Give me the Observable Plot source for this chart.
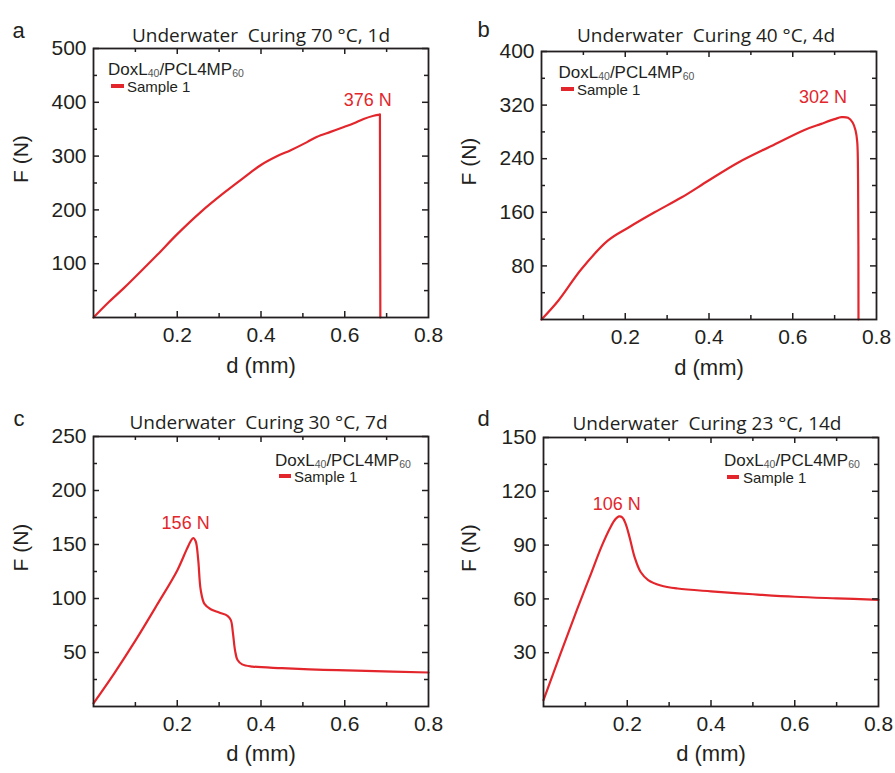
<!DOCTYPE html>
<html><head><meta charset="utf-8">
<script src="https://cdn.jsdelivr.net/npm/d3@7"></script>
<script src="https://cdn.jsdelivr.net/npm/@observablehq/plot@0.6"></script>
<style>
body{margin:0;background:#fff;}
#wrap{position:relative;width:895px;height:773px;overflow:hidden;background:#fff;font-family:"Liberation Sans",Arial,sans-serif;color:#231f20;}
#wrap svg text{white-space:pre;}
.lg{position:absolute;white-space:nowrap;transform:translateY(-50%);line-height:1;}
.lg.t{font-size:17px;}
.lg.t sub{font-size:10.5px;vertical-align:baseline;position:relative;top:2px;color:#555;}
.lg.s{font-size:15px;}
.sw{position:absolute;height:4px;background:#e3262c;transform:translateY(-50%);}
</style></head><body><div id="wrap"></div>
<script>
// ---------- data ----------
const titles = ["Underwater  Curing 70 °C, 1d", "Underwater  Curing 40 °C, 4d", "Underwater  Curing 30 °C, 7d", "Underwater  Curing 23 °C, 14d"];
const letters = ["a", "b", "c", "d"];
const xLabel = "d (mm)";
const yLabel = "F (N)";
const seriesName = "Sample 1";
const peakLabels = ["376 N", "302 N", "156 N", "106 N"];

// panel a: 70 °C, 1d
const dA = [0, 0.033, 0.073, 0.121, 0.153, 0.2, 0.256, 0.312, 0.359, 0.399, 0.439, 0.471, 0.51, 0.534, 0.566, 0.598, 0.622, 0.645, 0.669, 0.684, 0.685];
const fA = [0, 26, 55, 92, 117, 155, 196, 232, 260, 283, 300, 311, 326, 336, 345, 354, 361, 369, 375, 377, 0];
// panel b: 40 °C, 4d
const dB = [0, 0.04, 0.095, 0.159, 0.207, 0.27, 0.334, 0.398, 0.469, 0.549, 0.628, 0.668, 0.7, 0.716, 0.732, 0.743, 0.75, 0.754, 0.756, 0.757];
const fB = [0, 28, 75, 118, 137, 160, 182, 207, 234, 259, 283, 292, 299, 302, 301, 294, 282, 265, 207, 0];
// panel c: 30 °C, 7d
const dC = [0, 0.05, 0.1, 0.15, 0.2, 0.222, 0.232, 0.238, 0.244, 0.25, 0.256, 0.265, 0.28, 0.3, 0.32, 0.328, 0.333, 0.338, 0.344, 0.355, 0.38, 0.45, 0.55, 0.65, 0.8];
const fC = [3, 31, 61, 93, 126, 145, 153, 156, 153, 136, 108, 95, 90, 87, 84, 80, 68, 52, 43, 39, 37, 35.5, 34, 33, 31.5];
// panel d: 23 °C, 14d
const dD = [0, 0.04, 0.08, 0.11, 0.14, 0.16, 0.172, 0.18, 0.188, 0.196, 0.206, 0.218, 0.232, 0.25, 0.28, 0.32, 0.4, 0.5, 0.6, 0.7, 0.8];
const fD = [3.5, 29, 54, 72, 90, 100, 104.5, 106, 105.5, 102, 94, 83, 75, 70.5, 67.5, 65.8, 64.2, 62.6, 61.2, 60.3, 59.5];

// peak label anchor positions (data units)
const peakPosD = [0.655, 0.672, 0.22, 0.175];
const peakPosF = [404, 331, 170, 113];

// axis ticks
const xMajor = [0.2, 0.4, 0.6];
const xMinor = [0.1, 0.3, 0.5, 0.7];
const xLabelTicks = [0.2, 0.4, 0.6, 0.8];
const yMaxA = 500, yMaxB = 400, yMaxC = 250, yMaxD = 150;
const yMajorA = [100, 200, 300, 400, 500], yMinorA = [50, 150, 250, 350, 450];
const yMajorB = [80, 160, 240, 320, 400], yMinorB = [40, 120, 200, 280, 360];
const yMajorC = [50, 100, 150, 200, 250], yMinorC = [25, 75, 125, 175, 225];
const yMajorD = [30, 60, 90, 120, 150], yMinorD = [15, 45, 75, 105, 135];

// ---------- layout / style ----------
const RED = "#e3262c", INK = "#231f20";
const FONT = "'Liberation Sans', Arial, sans-serif";
const panels = [
  {d: dA, f: fA, ymax: yMaxA, yt: yMajorA, ym: yMinorA, curve: "catmull-rom", split: true,
   left: 0, top: 0, width: 447, height: 387, mL: 93, mR: 19, mT: 48, mB: 70,
   titleY: 27.5, titleDx: 0, letterX: 12, letterY: 22.3, xlDy: 55,
   leg: {tx: 108, ty: 69, sx: 111, sw: 13, sy: 86, stx: 127}},
  {d: dB, f: fB, ymax: yMaxB, yt: yMajorB, ym: yMinorB, curve: "catmull-rom", split: false,
   left: 448, top: 0, width: 447, height: 387, mL: 93, mR: 19, mT: 51, mB: 68,
   titleY: 28.2, titleDx: -3, letterX: 477, letterY: 21.3, xlDy: 55,
   leg: {tx: 558.5, ty: 71.5, sx: 561, sw: 13, sy: 89, stx: 577}},
  {d: dC, f: fC, ymax: yMaxC, yt: yMajorC, ym: yMinorC, curve: "catmull-rom", split: false,
   left: 0, top: 387, width: 447, height: 386, mL: 93, mR: 19, mT: 49, mB: 67,
   titleY: 27.9, titleDx: -2.5, letterX: 13, letterY: 22.7, xlDy: 54,
   leg: {tx: 275, ty: 459.7, sx: 278.5, sw: 12, sy: 476.3, stx: 294}},
  {d: dD, f: fD, ymax: yMaxD, yt: yMajorD, ym: yMinorD, curve: "catmull-rom", split: false,
   left: 448, top: 387, width: 447, height: 386, mL: 95, mR: 17, mT: 50, mB: 67,
   titleY: 28.9, titleDx: -4, letterX: 477, letterY: 22.7, xlDy: 54,
   leg: {tx: 724, ty: 460, sx: 727, sw: 12, sy: 476.7, stx: 743}}
];

const wrap = document.getElementById("wrap");

panels.forEach((p, i) => {
  const fh = p.height - p.mT - p.mB;
  const fw = p.width - p.mL - p.mR;
  const pts = p.d.map((x, j) => ({d: x, F: p.f[j]}));
  // the final vertical drop (fracture) is drawn straight, the loading curve smoothed
  const smooth = p.split ? pts.slice(0, -1) : pts;
  const drop = p.split ? pts.slice(-2) : [];
  const tickStyle = {stroke: INK, strokeWidth: 1.5};
  const svg = Plot.plot({
    width: p.width, height: p.height,
    marginLeft: p.mL, marginRight: p.mR, marginTop: p.mT, marginBottom: p.mB,
    style: {background: "transparent", color: INK, fontFamily: FONT, fontSize: "21px", overflow: "visible"},
    x: {domain: [0, 0.8]},
    y: {domain: [0, p.ymax]},
    marks: [
      Plot.line(smooth, {x: "d", y: "F", stroke: RED, strokeWidth: 2.2, curve: p.curve}),
      Plot.line(drop, {x: "d", y: "F", stroke: RED, strokeWidth: 2.2}),
      // inward ticks, bottom/top
      Plot.tickX(xMajor, {x: d => d, insetTop: fh - 6, ...tickStyle}),
      Plot.tickX(xMinor, {x: d => d, insetTop: fh - 4, ...tickStyle}),
      Plot.tickX(xMajor, {x: d => d, insetBottom: fh - 6, ...tickStyle}),
      Plot.tickX(xMinor, {x: d => d, insetBottom: fh - 4, ...tickStyle}),
      // inward ticks, left/right
      Plot.tickY(p.yt, {y: d => d, insetRight: fw - 6, ...tickStyle}),
      Plot.tickY(p.ym, {y: d => d, insetRight: fw - 4, ...tickStyle}),
      Plot.tickY(p.yt, {y: d => d, insetLeft: fw - 6, ...tickStyle}),
      Plot.tickY(p.ym, {y: d => d, insetLeft: fw - 4, ...tickStyle}),
      Plot.frame({stroke: INK, strokeWidth: 1.8}),
      Plot.axisX({ticks: xLabelTicks, tickSize: 0, tickPadding: 10, label: null, fontSize: 21, fontFamily: FONT}),
      Plot.axisY({ticks: p.yt, tickSize: 0, tickPadding: 7, label: null, fontSize: 21, fontFamily: FONT}),
      Plot.text([xLabel], {frameAnchor: "bottom", dy: p.xlDy, fontSize: 22, fontFamily: FONT, fill: INK}),
      Plot.text([yLabel], {frameAnchor: "left", dx: 21 - p.mL, rotate: -90, fontSize: 21, fontFamily: FONT, fill: INK}),
      Plot.text([titles[i]], {frameAnchor: "top", dx: p.titleDx, dy: p.titleY - p.mT, fontSize: 19, fontFamily: "Open Sans", fill: INK}),
      Plot.text([letters[i]], {frameAnchor: "top-left", textAnchor: "start", dx: p.letterX - p.left - p.mL, dy: p.letterY - p.mT, fontSize: 22, fontFamily: FONT, fill: INK}),
      Plot.text([peakLabels[i]], {x: () => peakPosD[i], y: () => peakPosF[i], fontSize: 18, fontFamily: FONT, fill: RED})
    ]
  });
  svg.style.position = "absolute";
  svg.style.left = p.left + "px";
  svg.style.top = p.top + "px";
  wrap.appendChild(svg);

  // legend (HTML, with subscripts)
  const L = p.leg;
  const t = document.createElement("div");
  t.className = "lg t";
  t.style.left = L.tx + "px"; t.style.top = L.ty + "px";
  t.innerHTML = "DoxL<sub>40</sub>/PCL4MP<sub>60</sub>";
  wrap.appendChild(t);
  const sw = document.createElement("div");
  sw.className = "sw";
  sw.style.left = L.sx + "px"; sw.style.top = L.sy + "px"; sw.style.width = L.sw + "px";
  wrap.appendChild(sw);
  const s = document.createElement("div");
  s.className = "lg s";
  s.style.left = L.stx + "px"; s.style.top = L.sy + "px";
  s.textContent = seriesName;
  wrap.appendChild(s);
});
</script>
</body></html>
